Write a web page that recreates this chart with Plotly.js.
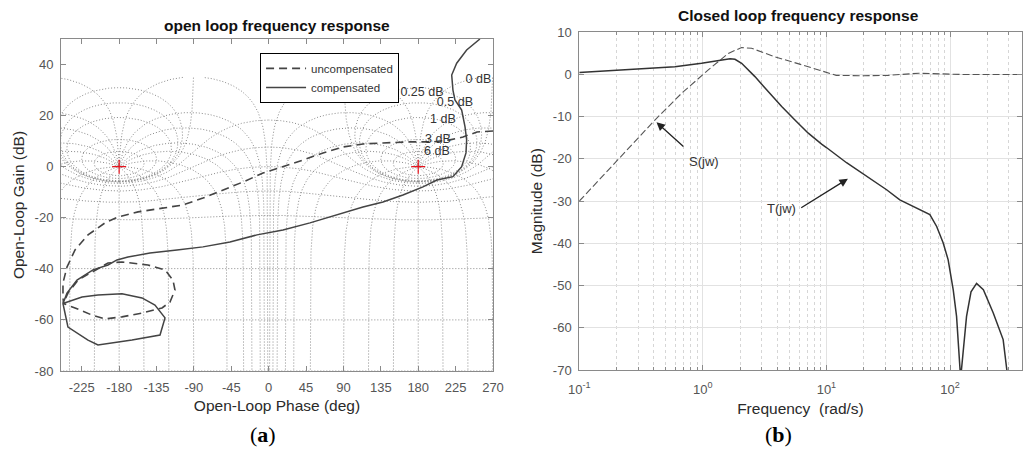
<!DOCTYPE html>
<html><head><meta charset="utf-8">
<script src="https://cdn.plot.ly/plotly-3.0.1.min.js"></script>
<style>html,body{margin:0;padding:0;background:#fff}#chart{width:1032px;height:456px}</style>
</head><body><div id="chart"></div>
<script>
// ---------- (a) Nichols plot data: open-loop phase (deg) / gain (dB) ----------
const uncompPhase = [270.0,250.7,233.9,218.2,197.8,170.1,137.6,113.5,89.4,65.4,41.3,17.2,-6.9,-30.9,-55.0,-79.1,-103.2,-127.2,-142.9,-157.3,-181.4,-197.0,-217.5,-233.1,-242.8,-247.6,-247.6,-247.0,-233.1,-212.7,-197.0,-176.6,-152.5,-128.4,-118.8,-112.8,-115.2,-124.8,-145.3,-176.6,-193.4,-212.7,-229.5,-241.6,-246.5];
const uncompGain  = [14.0,13.6,11.6,10.5,9.7,9.7,9.3,8.9,7.7,5.4,2.6,-0.1,-2.5,-6.0,-9.1,-12.3,-15.0,-16.2,-17.0,-17.7,-19.7,-22.0,-26.7,-32.6,-39.3,-45.5,-51.0,-53.6,-55.3,-58.1,-59.6,-58.8,-57.3,-55.3,-53.0,-48.3,-44.4,-40.4,-38.5,-37.3,-37.7,-41.2,-44.4,-49.5,-53.0];
const compPhase = [254.3,238.3,226.3,220.3,221.8,224.2,232.3,236.3,238.3,237.5,232.3,221.8,202.6,185.7,161.6,137.6,113.5,82.2,49.7,17.2,-14.1,-46.6,-79.1,-110.4,-142.9,-169.4,-182.6,-193.4,-211.5,-230.7,-242.8,-247.6,-224.7,-205.5,-176.6,-152.5,-136.9,-124.8,-130.8,-164.5,-205.5,-217.5,-241.6,-245.2,-247.6];
const compGain  = [50.0,45.7,40.5,35.9,30.0,26.1,22.2,15.7,10.5,5.4,0.0,-3.9,-5.2,-7.9,-11.1,-13.8,-15.8,-18.9,-22.0,-24.8,-26.7,-29.5,-31.4,-32.6,-33.8,-35.4,-36.5,-38.5,-40.4,-44.4,-49.5,-53.6,-51.0,-50.2,-49.8,-51.4,-54.2,-59.2,-65.9,-67.9,-69.8,-67.9,-62.8,-57.3,-53.6];

// Nichols grid levels (closed-loop gain in dB, closed-loop phase in deg)
const gridGainLevels  = [6,3,1,0.5,0.25,0,-1,-3,-6,-12,-20,-40,-60,-80,-100,-120];
const gridPhaseLevels = [-1,-5,-10,-20,-30,-50,-90,-120,-150,-180,-210,-240,-270,-310,-330,-340,-350,-355,-359];
const gridCopies = [0,360];
const gridMaxGain = 35;
const criticalPhase = [-180,180];
const criticalGain  = [0,0];
const gridLabelText  = ['0 dB','0.25 dB','0.5 dB','1 dB','3 dB','6 dB'];
const gridLabelPhase = [252.5,184.5,224.2,209.8,203.7,202.5];
const gridLabelGain  = [33.9,28.9,24.9,18.3,10.5,5.8];

const phaseTicks = [-225,-180,-135,-90,-45,0,45,90,135,180,225,270];
const gainTicks  = [-80,-60,-40,-20,0,20,40];

// ---------- (b) Closed loop frequency response ----------
const tFreq = [0.1,0.234,0.594,0.977,1.334,1.66,1.82,2.06,2.64,3.38,4.345,5.56,7.13,9.14,10,14.55,21.13,30.69,39.26,50.35,68.7,78.0,88.1,96.6,106.2,113,121.9,136.1,147.9,164.1,186.2,223.9,269.2,288.4];
const tMag  = [0.5,1.2,1.85,2.65,3.3,3.7,3.6,2.65,-0.5,-4.1,-7.6,-10.8,-13.9,-16.5,-17.3,-20.9,-24.2,-27.3,-29.7,-31.3,-33.2,-36.0,-39.9,-43.9,-51.0,-57.3,-72,-57.3,-51.5,-49.5,-51.0,-56.5,-62.8,-70];
const sFreq = [0.1,0.195,0.409,0.676,1.107,1.607,2.06,2.48,3.83,6.31,10,12,20,31.6,56,79,126,380];
const sMag  = [-30,-21.0,-10.8,-4.4,1.1,5.0,6.4,6.2,4.2,2.3,0.5,-0.2,-0.3,-0.2,0.3,0.1,0.0,0.0];
const freqTicks = [0.1,1,10,100];
const freqTickText = ['10<sup>-1</sup>','10<sup>0</sup>','10<sup>1</sup>','10<sup>2</sup>'];
const freqMinor = [0.2,0.3,0.4,0.5,0.6,0.7,0.8,0.9,2,3,4,5,6,7,8,9,20,30,40,50,60,70,80,90,200,300];
const magTicks = [-70,-60,-50,-40,-30,-20,-10,0,10];

// ---------- Nichols grid geometry (standard M/N contours) ----------
function nicholsGrid(){
  const X=[],Y=[];
  const deg=180/Math.PI;
  const add=(xs,ys)=>{for(let i=0;i<xs.length;i++){if(ys[i]>gridMaxGain){X.push(null);Y.push(null);}else{X.push(xs[i]);Y.push(ys[i]);}}X.push(null);Y.push(null);};
  const ms=[];
  for(let i=0;i<=900;i++) ms.push(Math.pow(10,-4.5+9*i/900));
  for(let i=0;i<=400;i++) ms.push(0.9+0.2*i/400);
  ms.sort((a,b)=>a-b);
  for(const s of gridCopies){
    for(const gdb of gridGainLevels){
      const M=Math.pow(10,gdb/20);const xs=[],ys=[];
      if(gdb===0){
        for(let k=0;k<=800;k++){const u=-8+16*k/800;const re=-0.5,im=0.5*Math.sinh(u);let ph=Math.atan2(im,re)*deg;if(ph>0)ph-=360;xs.push(ph+s);ys.push(20*Math.log10(Math.hypot(re,im)));}
      } else if(M>1){
        const c=-M*M/(M*M-1),r=M/(M*M-1);
        for(let k=0;k<=720;k++){const t=2*Math.PI*k/720;const re=c+r*Math.cos(t),im=r*Math.sin(t);let ph=Math.atan2(im,re)*deg;if(ph>0)ph-=360;xs.push(ph+s);ys.push(20*Math.log10(Math.hypot(re,im)));}
      } else {
        const c=M*M/(1-M*M),r=M/(1-M*M);
        for(let k=1;k<720;k++){const t=-2*Math.PI*k/720;const re=c+r*Math.cos(t),im=r*Math.sin(t);let ph=Math.atan2(im,re)*deg;if(k>360&&ph>0)ph-=360;xs.push(ph+s);ys.push(20*Math.log10(Math.hypot(re,im)));}
      }
      add(xs,ys);
    }
    for(const N of gridPhaseLevels){
      const n=N/deg;const xs=[],ys=[];
      for(const m of ms){const are=1-m*Math.cos(n),aim=-m*Math.sin(n);const ph=N-Math.atan2(aim,are)*deg;xs.push(ph+s);ys.push(20*Math.log10(m/Math.hypot(are,aim)));}
      add(xs,ys);
    }
  }
  return {X,Y};
}
const grid=nicholsGrid();

const FONT='"Liberation Sans", Arial, Helvetica, sans-serif';
const SERIF='"Liberation Serif", "DejaVu Serif", serif';
const tickFont={family:FONT,size:13,color:'#555'};
const titleFont={family:FONT,size:15.5,color:'#2a2a2a'};
const axisLine='#8a8a8a';

const traces=[
  {x:grid.X,y:grid.Y,xaxis:'x',yaxis:'y',mode:'lines',line:{color:'#8a8a8a',width:1,dash:'1px,2px'},hoverinfo:'skip',showlegend:false,connectgaps:false},
  {x:uncompPhase,y:uncompGain,xaxis:'x',yaxis:'y',mode:'lines',name:'uncompensated',line:{color:'#444',width:1.6,dash:'8px,5px'}},
  {x:compPhase,y:compGain,xaxis:'x',yaxis:'y',mode:'lines',name:'compensated',line:{color:'#444',width:1.5}},
  {x:criticalPhase,y:criticalGain,xaxis:'x',yaxis:'y',mode:'markers',marker:{symbol:'cross-thin',size:10,line:{color:'#e8141e',width:1.2}},showlegend:false,hoverinfo:'skip'},
  {x:gridLabelPhase,y:gridLabelGain,text:gridLabelText,xaxis:'x',yaxis:'y',mode:'text',textfont:{family:FONT,size:12.5,color:'#333'},showlegend:false,hoverinfo:'skip'},
  {x:sFreq,y:sMag,xaxis:'x2',yaxis:'y2',mode:'lines',line:{color:'#555',width:1.1,dash:'7px,3px'},showlegend:false},
  {x:tFreq,y:tMag,xaxis:'x2',yaxis:'y2',mode:'lines',line:{color:'#333',width:1.5},showlegend:false}
];

const layout={
  width:1032,height:456,margin:{l:0,r:0,t:0,b:0},
  paper_bgcolor:'#fff',plot_bgcolor:'#fff',
  font:{family:FONT,color:'#333'},
  showlegend:true,
  legend:{x:0.252,y:0.884,xanchor:'left',yanchor:'top',bgcolor:'#fff',bordercolor:'#000',borderwidth:1,itemwidth:40,font:{family:FONT,size:11.5,color:'#333'},tracegroupgap:0},
  xaxis:{domain:[0.0591,0.4777],range:[-250,270],anchor:'y',tickmode:'array',tickvals:phaseTicks,ticktext:phaseTicks.map(String),
    ticks:'inside',ticklen:5,tickcolor:axisLine,showline:true,linecolor:axisLine,mirror:'ticks',showgrid:false,zeroline:false,
    tickfont:tickFont,ticklabelstandoff:4,title:{text:'Open-Loop Phase (deg)',font:titleFont,standoff:6}},
  yaxis:{domain:[0.1864,0.9145],range:[-80,50],anchor:'x',tickmode:'array',tickvals:gainTicks,ticktext:gainTicks.map(String),
    ticks:'inside',ticklen:5,tickcolor:axisLine,showline:true,linecolor:axisLine,mirror:'ticks',showgrid:false,zeroline:false,
    tickfont:tickFont,ticklabelstandoff:4,title:{text:'Open-Loop Gain (dB)',font:titleFont,standoff:6}},
  xaxis2:{type:'log',domain:[0.5613,0.99],range:[-1,2.58],anchor:'y2',tickmode:'array',tickvals:freqTicks,ticktext:freqTickText,
    ticks:'inside',ticklen:5,tickcolor:axisLine,showline:true,linecolor:axisLine,mirror:'ticks',showgrid:true,gridcolor:'#e2e2e2',zeroline:false,
    minor:{tickmode:'array',tickvals:freqMinor,ticks:'inside',ticklen:3,tickcolor:axisLine,showgrid:true,gridcolor:'#d6d6d6',griddash:'dot'},
    tickfont:tickFont,ticklabelstandoff:7,title:{text:'Frequency  (rad/s)',font:titleFont,standoff:7}},
  yaxis2:{domain:[0.1886,0.9292],range:[-70,10],anchor:'x2',tickmode:'array',tickvals:magTicks,ticktext:magTicks.map(String),
    ticks:'inside',ticklen:5,tickcolor:axisLine,showline:true,linecolor:axisLine,mirror:'ticks',showgrid:true,gridcolor:'#e2e2e2',zeroline:false,
    tickfont:tickFont,ticklabelstandoff:4,title:{text:'Magnitude (dB)',font:titleFont,standoff:6}},
  annotations:[
    {xref:'paper',yref:'paper',x:0.2684,y:0.945,xanchor:'center',yanchor:'middle',text:'<b>open loop frequency response</b>',showarrow:false,font:{family:FONT,size:15.5,color:'#111'}},
    {xref:'paper',yref:'paper',x:0.7737,y:0.967,xanchor:'center',yanchor:'middle',text:'<b>Closed loop frequency response</b>',showarrow:false,font:{family:FONT,size:15.5,color:'#111'}},
    {xref:'paper',yref:'paper',x:0.2548,y:0.048,xanchor:'center',yanchor:'middle',text:'(<b>a</b>)',showarrow:false,font:{family:SERIF,size:22,color:'#000'}},
    {xref:'paper',yref:'paper',x:0.7548,y:0.048,xanchor:'center',yanchor:'middle',text:'(<b>b</b>)',showarrow:false,font:{family:SERIF,size:22,color:'#000'}},
    {xref:'x2',yref:'y2',x:-0.375,y:-11.3,axref:'x2',ayref:'y2',ax:-0.145,ay:-17.4,text:'',showarrow:true,arrowhead:2,arrowsize:1.3,arrowwidth:1.3,arrowcolor:'#222',standoff:0},
    {xref:'x2',yref:'y2',x:0.009,y:-20.5,xanchor:'center',yanchor:'middle',text:'S(jw)',showarrow:false,font:{family:FONT,size:13,color:'#333'}},
    {xref:'x2',yref:'y2',x:1.174,y:-24.7,axref:'x2',ayref:'y2',ax:0.784,ay:-31.8,text:'',showarrow:true,arrowhead:2,arrowsize:1.3,arrowwidth:1.3,arrowcolor:'#222',standoff:0},
    {xref:'x2',yref:'y2',x:0.638,y:-31.7,xanchor:'center',yanchor:'middle',text:'T(jw)',showarrow:false,font:{family:FONT,size:13,color:'#333'}}
  ]
};
Plotly.newPlot('chart',traces,layout,{staticPlot:true,displayModeBar:false});
</script>
</body></html>
